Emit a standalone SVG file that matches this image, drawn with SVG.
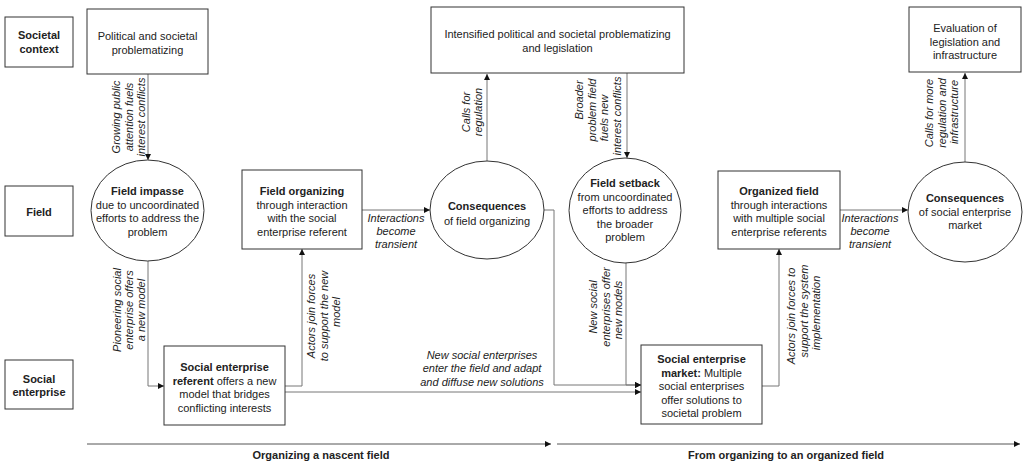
<svg xmlns="http://www.w3.org/2000/svg" width="1023" height="465" viewBox="0 0 1023 465">
<style>
.box{fill:#fff;stroke:#333;stroke-width:1}
.ell{fill:#fff;stroke:#333;stroke-width:1}
.conn{fill:none;stroke:#777;stroke-width:1}
.tl{fill:none;stroke:#555;stroke-width:1}
text{font-family:"Liberation Sans",Arial,sans-serif;font-size:11px;fill:#222;text-anchor:middle}
.b{font-weight:bold}
.i{font-style:italic}
</style>
<defs>
<marker id="arr" markerWidth="6" markerHeight="6" refX="6" refY="3" orient="auto" markerUnits="userSpaceOnUse">
<path d="M0,0 L6,3 L0,6 z" fill="#111"/>
</marker>
</defs>
<rect width="1023" height="465" fill="#fff"/>

<g id="row-societal"><rect class="box" x="5" y="17" width="68" height="50"/><text class="b" x="39" y="39">Societal</text><text class="b" x="39" y="53">context</text></g>
<g id="row-field"><rect class="box" x="5" y="186" width="68" height="50"/><text class="b" x="39" y="216">Field</text></g>
<g id="row-se"><rect class="box" x="5" y="360" width="68" height="49"/><text class="b" x="39" y="383">Social</text><text class="b" x="39" y="396">enterprise</text></g>

<g id="connectors">
<path class="conn" d="M148,74 V160" marker-end="url(#arr)"/>
<path class="conn" d="M148,261 V386 H164" marker-end="url(#arr)"/>
<path class="conn" d="M285,386 H302 V249" marker-end="url(#arr)"/>
<path class="conn" d="M285,392 H641" marker-end="url(#arr)"/>
<path class="conn" d="M362,210 H430" marker-end="url(#arr)"/>
<path class="conn" d="M487,161 V74" marker-end="url(#arr)"/>
<path class="conn" d="M544,210 H554 V385 H641" marker-end="url(#arr)"/>
<path class="conn" d="M627,73 V158" marker-end="url(#arr)"/>
<path class="conn" d="M626,262 V385 H641" marker-end="url(#arr)"/>
<path class="conn" d="M762,386 H779 V249" marker-end="url(#arr)"/>
<path class="conn" d="M840,210 H908" marker-end="url(#arr)"/>
<path class="conn" d="M965,162 V73" marker-end="url(#arr)"/>
<path class="tl" d="M87,444 H551" marker-end="url(#arr)"/>
<path class="tl" d="M557,444 H1020" marker-end="url(#arr)"/>
</g>

<g id="n-political"><rect class="box" x="87" y="9" width="121" height="65"/><text x="147.5" y="40">Political and societal</text><text x="147.5" y="54">problematizing</text></g>
<g id="n-impasse"><ellipse class="ell" cx="147.5" cy="210.5" rx="56.5" ry="50.5"/>
<text class="b" x="147.5" y="195">Field impasse</text><text x="147.5" y="208.5">due to uncoordinated</text><text x="147.5" y="222">efforts to address the</text><text x="147.5" y="235.5">problem</text></g>
<g id="n-organizing"><rect class="box" x="242" y="170" width="120" height="79"/>
<text class="b" x="302" y="195">Field organizing</text><text x="302" y="208.5">through interaction</text><text x="302" y="222">with the social</text><text x="302" y="235.5">enterprise referent</text></g>
<g id="n-referent"><rect class="box" x="164" y="346" width="121" height="79"/>
<text class="b" x="224.5" y="371">Social enterprise</text><text x="224.5" y="384.5"><tspan class="b">referent</tspan> offers a new</text><text x="224.5" y="398">model that bridges</text><text x="224.5" y="411.5">conflicting interests</text></g>
<g id="n-cons1"><ellipse class="ell" cx="487" cy="210" rx="57" ry="49"/>
<text class="b" x="487" y="210">Consequences</text><text x="487" y="224.5">of field organizing</text></g>
<g id="n-intensified"><rect class="box" x="431" y="7" width="253" height="66"/>
<text x="557.5" y="38">Intensified political and societal problematizing</text><text x="557.5" y="52">and legislation</text></g>
<g id="n-setback"><ellipse class="ell" cx="625" cy="210.5" rx="56" ry="52.5"/>
<text class="b" x="625" y="187">Field setback</text><text x="625" y="200.5">from uncoordinated</text><text x="625" y="214">efforts to address</text><text x="625" y="227.5">the broader</text><text x="625" y="241">problem</text></g>
<g id="n-market"><rect class="box" x="641" y="345" width="121" height="79"/>
<text class="b" x="701.5" y="363">Social enterprise</text><text x="701.5" y="376.5"><tspan class="b">market:</tspan> Multiple</text><text x="701.5" y="390">social enterprises</text><text x="701.5" y="403.5">offer solutions to</text><text x="701.5" y="417">societal problem</text></g>
<g id="n-organized"><rect class="box" x="718" y="171" width="122" height="78"/>
<text class="b" x="779" y="195">Organized field</text><text x="779" y="208.5">through interactions</text><text x="779" y="222">with multiple social</text><text x="779" y="235.5">enterprise referents</text></g>
<g id="n-cons2"><ellipse class="ell" cx="965" cy="212" rx="57" ry="50"/>
<text class="b" x="965" y="202">Consequences</text><text x="965" y="215.5">of social enterprise</text><text x="965" y="229">market</text></g>
<g id="n-evaluation"><rect class="box" x="909" y="7" width="112" height="65"/>
<text x="965" y="32">Evaluation of</text><text x="965" y="45.5">legislation and</text><text x="965" y="59">infrastructure</text></g>

<g id="labels">
<text class="i" transform="translate(120,117) rotate(-90)">Growing public</text>
<text class="i" transform="translate(132.5,117) rotate(-90)">attention fuels</text>
<text class="i" transform="translate(145,117) rotate(-90)">interest conflicts</text>

<text class="i" transform="translate(121,310) rotate(-90)">Pioneering social</text>
<text class="i" transform="translate(133,310) rotate(-90)">enterprise offers</text>
<text class="i" transform="translate(145,310) rotate(-90)">a new model</text>

<text class="i" transform="translate(315,316) rotate(-90)">Actors  join forces</text>
<text class="i" transform="translate(327.5,316) rotate(-90)">to support the new</text>
<text class="i" transform="translate(340,312) rotate(-90)">model</text>

<text class="i" x="396" y="222">Interactions</text><text class="i" x="396" y="235">become</text><text class="i" x="396" y="248">transient</text>

<text class="i" transform="translate(470,112) rotate(-90)">Calls for</text>
<text class="i" transform="translate(482,112) rotate(-90)">regulation</text>

<text class="i" transform="translate(583,100) rotate(-90)">Broader</text>
<text class="i" transform="translate(595.5,110) rotate(-90)">problem field</text>
<text class="i" transform="translate(608,118) rotate(-90)">fuels new</text>
<text class="i" transform="translate(620.5,116) rotate(-90)">interest conflicts</text>

<text class="i" transform="translate(597,307) rotate(-90)">New social</text>
<text class="i" transform="translate(609.5,307) rotate(-90)">enterprises offer</text>
<text class="i" transform="translate(622,310) rotate(-90)">new models</text>

<text class="i" x="482" y="359">New social enterprises</text><text class="i" x="482" y="372">enter the field and adapt</text><text class="i" x="482" y="385.5">and diffuse new solutions</text>

<text class="i" transform="translate(795,316) rotate(-90)">Actors  join forces to</text>
<text class="i" transform="translate(807.5,311) rotate(-90)">support the system</text>
<text class="i" transform="translate(820,313) rotate(-90)">implementation</text>

<text class="i" x="870" y="222">Interactions</text><text class="i" x="870" y="235">become</text><text class="i" x="870" y="248">transient</text>

<text class="i" transform="translate(933,113) rotate(-90)">Calls for more</text>
<text class="i" transform="translate(945.5,113) rotate(-90)">regulation and</text>
<text class="i" transform="translate(958,112) rotate(-90)">infrastructure</text>

<text class="b" x="321" y="459">Organizing a nascent field</text>
<text class="b" x="786" y="459">From organizing to an organized field</text>
</g>
</svg>
